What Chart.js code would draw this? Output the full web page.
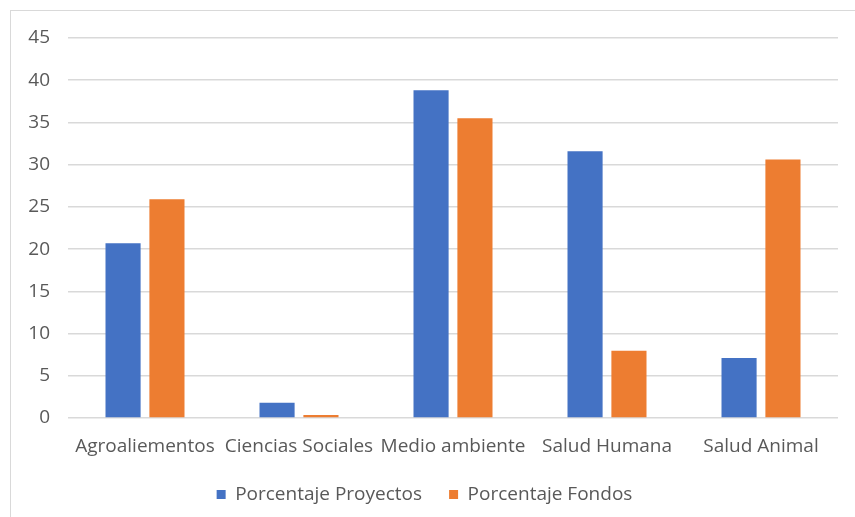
<!DOCTYPE html>
<html lang="es">
<head>
    <meta charset="UTF-8" />
    <title>Porcentaje Proyectos y Fondos</title>
    <script src="https://cdn.jsdelivr.net/npm/chart.js"></script>
    <style>
        body {
            margin: 0;
            background: #ffffff;
            overflow: hidden;
        }

        .marco {
            position: absolute;
            left: 10px;
            top: 10px;
            width: 900px;
            height: 600px;
            border: 1px solid #d9d9d9;
        }

        .chart-box {
            position: absolute;
            left: 11px;
            top: 11px;
            width: 834px;
            height: 506px;
        }
    </style>
</head>
<body>
    <div class="marco"></div>
    <div class="chart-box">
        <canvas id="barChart"></canvas>
    </div>

    <script>
        const categorias = ['Agroaliementos', 'Ciencias Sociales', 'Medio ambiente', 'Salud Humana', 'Salud Animal'];
        const porcentajeProyectos = [20.7, 1.8, 38.8, 31.6, 7.1];
        const porcentajeFondos = [25.9, 0.35, 35.5, 7.95, 30.6];
        const ticksY = [0, 5, 10, 15, 20, 25, 30, 35, 40, 45];

        const gris = '#595959';
        const fuente = { family: "'Open Sans', 'Liberation Sans', sans-serif", size: 19 };

        new Chart(document.getElementById('barChart'), {
            type: 'bar',
            data: {
                labels: categorias,
                datasets: [{
                    label: 'Porcentaje Proyectos',
                    data: porcentajeProyectos,
                    backgroundColor: '#4472c4'
                }, {
                    label: 'Porcentaje Fondos',
                    data: porcentajeFondos,
                    backgroundColor: '#ed7d31'
                }]
            },
            options: {
                responsive: true,
                maintainAspectRatio: false,
                animation: false,
                layout: {
                    padding: { top: 27, right: 7, left: 0, bottom: 3 }
                },
                datasets: {
                    bar: {
                        categoryPercentage: 0.57,
                        barPercentage: 0.8
                    }
                },
                plugins: {
                    legend: {
                        position: 'bottom',
                        labels: {
                            boxWidth: 9,
                            boxHeight: 9,
                            padding: 27,
                            color: gris,
                            font: fuente
                        }
                    },
                    tooltip: { enabled: false }
                },
                scales: {
                    x: {
                        afterFit: (scale) => {
                            scale.height = 40;
                        },
                        grid: { display: false, drawTicks: false },
                        border: { display: false },
                        ticks: {
                            color: gris,
                            font: fuente,
                            maxRotation: 0,
                            autoSkip: false,
                            padding: 17
                        }
                    },
                    y: {
                        min: 0,
                        max: 45,
                        afterBuildTicks: (scale) => {
                            scale.ticks = ticksY.map(v => ({ value: v }));
                        },
                        afterFit: (scale) => {
                            scale.width = 57;
                            scale.paddingTop = 0;
                            scale.paddingBottom = 0;
                        },
                        grid: {
                            color: '#d9d9d9',
                            lineWidth: 1.5,
                            drawTicks: false
                        },
                        border: { display: false },
                        ticks: {
                            color: gris,
                            font: fuente,
                            padding: 18
                        }
                    }
                }
            }
        });
    </script>
</body>
</html>
